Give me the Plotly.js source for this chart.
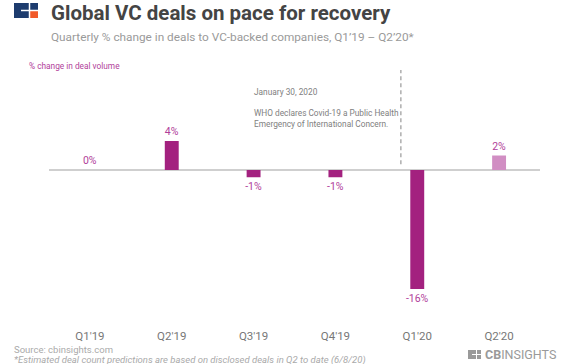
<!DOCTYPE html>
<html>
<head>
<meta charset="utf-8">
<script src="https://cdn.plot.ly/plotly-3.0.1.min.js"></script>
<style>html,body{margin:0;padding:0;background:#fff;}#chart{width:572px;height:364px;}</style>
</head>
<body>
<div id="chart"></div>
<script>
var categories = ["Q1'19", "Q2'19", "Q3'19", "Q4'19", "Q1'20", "Q2'20"];
var changePct = [0, 4, -1, -1, -16.4, 2];
var labels = ["0%", "4%", "-1%", "-1%", "-16%", "2%"];
var barColors = ["#A3217F", "#A3217F", "#A3217F", "#A3217F", "#A3217F", "#D18EC3"];

var W = 572, H = 364;
function px(x){ return x / W; }
function py(y){ return 1 - y / H; }
var FONT = "Roboto, 'Noto Sans', sans-serif";

var plotTop = 60, plotBottom = 327, zeroY = 170, pxPerPct = 7.25;
var yMax = (zeroY - plotTop) / pxPerPct;
var yMin = -(plotBottom - zeroY) / pxPerPct;

var trace = {
  type: 'bar',
  x: categories,
  y: changePct,
  text: labels,
  textposition: 'outside',
  constraintext: 'none',
  cliponaxis: false,
  textfont: {family: FONT, size: 10.5, color: '#B13E9A'},
  marker: {color: barColors, line: {width: 0}},
  width: 0.17,
  hoverinfo: 'none'
};

var shapes = [
  // dashed event line
  {type: 'line', xref: 'x', yref: 'y', x0: 3.8, x1: 3.8, y0: 0.8, y1: 13.8,
   line: {color: '#999', width: 1.2, dash: '4px,3px'}},
  // CB logo top-left
  {type: 'rect', xref: 'paper', yref: 'paper', x0: px(14), x1: px(38), y0: py(18), y1: py(3),
   fillcolor: '#1D3C6E', line: {width: 0}},
  {type: 'rect', xref: 'paper', yref: 'paper', x0: px(30), x1: px(38), y0: py(18), y1: py(11),
   fillcolor: '#F15A29', line: {width: 0}},
  {type: 'line', xref: 'paper', yref: 'paper', x0: px(29.5), x1: px(29.5), y0: py(18), y1: py(3),
   line: {color: '#fff', width: 1.5}},
  {type: 'line', xref: 'paper', yref: 'paper', x0: px(21), x1: px(38), y0: py(10.5), y1: py(10.5),
   line: {color: '#fff', width: 1.5}},
  // CB insights footer logo
  {type: 'rect', xref: 'paper', yref: 'paper', x0: px(468), x1: px(481), y0: py(359), y1: py(350),
   fillcolor: '#9a9a9a', line: {width: 0}},
  {type: 'line', xref: 'paper', yref: 'paper', x0: px(476.5), x1: px(476.5), y0: py(359), y1: py(350),
   line: {color: '#fff', width: 1}},
  {type: 'line', xref: 'paper', yref: 'paper', x0: px(472), x1: px(481), y0: py(354.5), y1: py(354.5),
   line: {color: '#fff', width: 1}}
];

var annotations = [
  {text: '<b>Global VC deals on pace for recovery</b>', xref: 'paper', yref: 'paper',
   x: px(49), y: py(13), xanchor: 'left', yanchor: 'middle', showarrow: false,
   font: {family: FONT, size: 20.5, color: '#444'}},
  {text: 'Quarterly % change in deals to VC-backed companies, Q1\u201919 \u2013 Q2\u201920*', xref: 'paper', yref: 'paper',
   x: px(49), y: py(37), xanchor: 'left', yanchor: 'middle', showarrow: false,
   font: {family: FONT, size: 11.8, color: '#9a9a9a'}},
  {text: '% change in deal volume', xref: 'paper', yref: 'paper',
   x: px(27), y: py(66), xanchor: 'left', yanchor: 'middle', showarrow: false,
   font: {family: FONT, size: 8.3, color: '#B13E9A'}},
  {text: 'January 30, 2020', xref: 'paper', yref: 'paper',
   x: px(252), y: py(92), xanchor: 'left', yanchor: 'middle', showarrow: false,
   font: {family: FONT, size: 8.3, color: '#808080'}},
  {text: 'WHO declares Covid-19 a Public Health<br>Emergency of International Concern.', xref: 'paper', yref: 'paper',
   x: px(252), y: py(119), xanchor: 'left', yanchor: 'middle', align: 'left', showarrow: false,
   font: {family: FONT, size: 8.3, color: '#808080'}},
  {text: 'Source: cbinsights.com', xref: 'paper', yref: 'paper',
   x: px(12), y: py(349), xanchor: 'left', yanchor: 'middle', showarrow: false,
   font: {family: FONT, size: 9.5, color: '#aaa'}},
  {text: '<i>*Estimated deal count predictions are based on disclosed deals in Q2 to date (6/8/20)</i>', xref: 'paper', yref: 'paper',
   x: px(12), y: py(360), xanchor: 'left', yanchor: 'middle', showarrow: false,
   font: {family: FONT, size: 9.5, color: '#aaa'}},
  {text: '<b>CB</b>INSIGHTS', xref: 'paper', yref: 'paper',
   x: px(483), y: py(354.5), xanchor: 'left', yanchor: 'middle', showarrow: false,
   font: {family: FONT, size: 12.5, color: '#9a9a9a'}}
];

var layout = {
  width: W, height: H,
  margin: {l: 0, r: 0, t: 0, b: 0, pad: 0},
  paper_bgcolor: '#fff', plot_bgcolor: '#fff',
  showlegend: false,
  xaxis: {
    domain: [px(49), px(540)],
    type: 'category',
    range: [-0.5, 5.5],
    showgrid: false, zeroline: false, showline: false, ticks: '',
    tickfont: {family: FONT, size: 11.5, color: '#777'}
  },
  yaxis: {
    domain: [py(plotBottom), py(plotTop)],
    range: [yMin, yMax],
    showgrid: false, showticklabels: false, ticks: '',
    zeroline: true, zerolinecolor: '#cfcfcf', zerolinewidth: 1.2,
    showline: false
  },
  shapes: shapes,
  annotations: annotations
};

Plotly.newPlot('chart', [trace], layout, {displayModeBar: false, staticPlot: true});
</script>
</body>
</html>
